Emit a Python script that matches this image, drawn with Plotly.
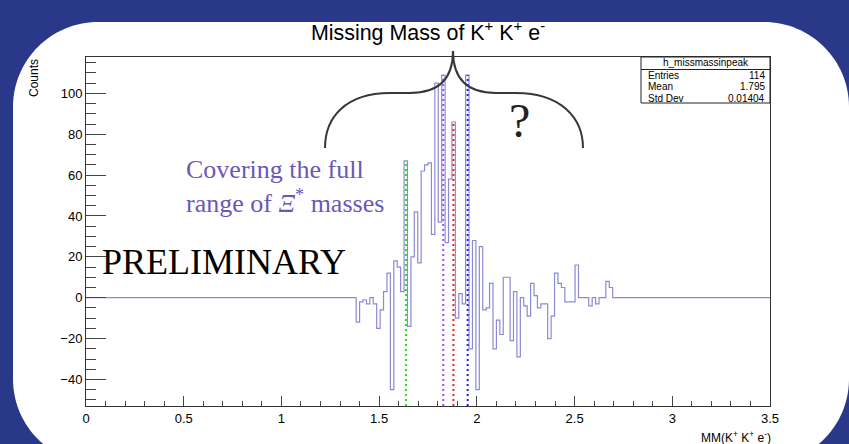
import plotly.graph_objects as go

# ---------------- data ----------------
N_BINS = 200
X_MIN, X_MAX = 0.0, 3.5
FIRST_FILLED_BIN = 79
bin_counts = [-12, -2, -1, -3, 0, -3, -15, -6, 3, 12,
              -45, 18, 15, 3, 67, -14, 20, 42, 17, 62,
              65, 66, 31, 105, 37, 109, 27, 58, 86, -10,
              2, -3, 109, -25, 28, -45, 25, -6, -5, 7,
              -25, -11, -18, 10, 10, -21, 3, -29, 0, -4,
              -9, 7, 1, -5, -3, -3, -20, -9, 12, 7,
              5, -2, -2, -2, 16, 0, 0, 0, -4, 0,
              -3, 0, 0, 8, 5]
mass_lines = [1.637, 1.828, 1.880, 1.953]
mass_line_colors = ['#1fe01f', '#a24ff0', '#ff1a1a', '#1a1aff']
x_tick_vals = [0, 0.5, 1, 1.5, 2, 2.5, 3, 3.5]
x_tick_text = ['0', '0.5', '1', '1.5', '2', '2.5', '3', '3.5']
y_tick_vals = [-40, -20, 0, 20, 40, 60, 80, 100]
y_tick_text = ['\u221240', '\u221220', '0', '20', '40', '60', '80', '100']
stats_title = 'h_missmassinpeak'
stats_labels = ['Entries', 'Mean', 'Std Dev']
stats_values = ['114', '1.795', '0.01404']
Y_MIN, Y_MAX = -53, 117.8

# ---------------- histogram ----------------
bw = (X_MAX - X_MIN) / N_BINS
full = [0] * N_BINS
for i, v in enumerate(bin_counts):
    full[FIRST_FILLED_BIN + i] = v
edges = [X_MIN + i * bw for i in range(N_BINS + 1)]
ys = full + [full[-1]]

W, H = 849, 444
L, T, PW, PH = 86, 57, 684, 349
R = W - L - PW
B = H - T - PH


def fx(p):
    return (p - L) / PW


def fy(p):
    return (T + PH - p) / PH


SANS = 'Liberation Sans, Arial, sans-serif'
SERIF = 'Liberation Serif, Times New Roman, serif'

fig = go.Figure()
fig.add_trace(go.Scatter(x=edges, y=ys, mode='lines', line_shape='hv',
                         line=dict(color='#8b8bd2', width=1.2),
                         hoverinfo='skip', showlegend=False))
for m, c in zip(mass_lines, mass_line_colors):
    k = int((m - X_MIN) / bw)
    fig.add_trace(go.Scatter(x=[m, m], y=[Y_MIN, full[k]], mode='lines',
                             line=dict(color=c, width=2, dash='2px,3px'),
                             hoverinfo='skip', showlegend=False))

# ---------------- decorations ----------------
def path_from(cmds):
    out = []
    for c in cmds:
        if isinstance(c, str):
            out.append(c)
        else:
            out.append('%.5f,%.5f' % (fx(c[0]), fy(c[1])))
    return ' '.join(out)


# white rounded panel
pl, pr, pt, pb, rr = 13, 849, 22, 464, 85
kk = rr * 0.5523
panel = path_from([
    'M', (pl + rr, pt), 'L', (pr - rr, pt),
    'C', (pr - rr + kk, pt), (pr, pt + rr - kk), (pr, pt + rr),
    'L', (pr, pb - rr),
    'C', (pr, pb - rr + kk), (pr - rr + kk, pb), (pr - rr, pb),
    'L', (pl + rr, pb),
    'C', (pl + rr - kk, pb), (pl, pb - rr + kk), (pl, pb - rr),
    'L', (pl, pt + rr),
    'C', (pl, pt + rr - kk), (pl + rr - kk, pt), (pl + rr, pt), 'Z'])

brace = path_from([
    'M', (325, 148), 'C', (325, 118), (345, 93), (390, 93),
    'L', (410, 93), 'C', (440, 93), (453, 78), (453, 51),
    'C', (453, 78), (466, 93), (496, 93),
    'L', (516, 93), 'C', (561, 93), (583, 118), (583, 148)])

shapes = [
    dict(type='path', xref='paper', yref='paper', path=panel,
         fillcolor='white', line=dict(width=0), layer='below'),
    dict(type='path', xref='paper', yref='paper', path=brace,
         line=dict(color='#383838', width=2)),
    # stats box
    dict(type='rect', xref='paper', yref='paper', x0=fx(641), x1=fx(770),
         y0=fy(103), y1=fy(57), line=dict(color='#222', width=1),
         fillcolor='white'),
    dict(type='line', xref='paper', yref='paper', x0=fx(641), x1=fx(770),
         y0=fy(69.5), y1=fy(69.5), line=dict(color='#222', width=1)),
]

ann = []
ann.append(dict(text='Missing Mass of K<sup>+</sup> K<sup>+</sup> e<sup>-</sup>',
                x=fx(428), y=fy(31), xref='paper', yref='paper',
                xanchor='center', yanchor='middle', showarrow=False,
                font=dict(family=SANS, size=21.4, color='black')))
ann.append(dict(text='Counts', x=fx(34), y=fy(57), xref='paper', yref='paper',
                xanchor='center', yanchor='top', textangle=-90, showarrow=False,
                font=dict(family=SANS, size=12, color='black')))
ann.append(dict(text='MM(K<sup>+</sup> K<sup>+</sup> e<sup>-</sup>)',
                x=fx(773), y=fy(437), xref='paper', yref='paper',
                xanchor='right', yanchor='middle', showarrow=False,
                font=dict(family=SANS, size=12, color='black')))
ann.append(dict(text='Covering the full<br>range of <i>\u039e</i><sup>*</sup> masses',
                x=fx(184), y=fy(186), xref='paper', yref='paper',
                xanchor='left', yanchor='middle', align='left', showarrow=False,
                font=dict(family=SERIF, size=26, color='#6a58b8')))
ann.append(dict(text='PRELIMINARY', x=fx(100), y=fy(262), xref='paper',
                yref='paper', xanchor='left', yanchor='middle', showarrow=False,
                font=dict(family=SERIF, size=36, color='black')))
ann.append(dict(text='?', x=fx(519), y=fy(120), xref='paper', yref='paper',
                xanchor='center', yanchor='middle', showarrow=False,
                font=dict(family=SERIF, size=48, color='#222')))
ann.append(dict(text=stats_title, x=fx(705.5), y=fy(63), xref='paper',
                yref='paper', xanchor='center', yanchor='middle', showarrow=False,
                font=dict(family=SANS, size=10, color='black')))
row_y = [75, 86.5, 98]
for lab, val, yy in zip(stats_labels, stats_values, row_y):
    ann.append(dict(text=lab, x=fx(646), y=fy(yy), xref='paper', yref='paper',
                    xanchor='left', yanchor='middle', showarrow=False,
                    font=dict(family=SANS, size=10, color='black')))
    ann.append(dict(text=val, x=fx(767), y=fy(yy), xref='paper', yref='paper',
                    xanchor='right', yanchor='middle', showarrow=False,
                    font=dict(family=SANS, size=10, color='black')))

fig.update_layout(
    width=W, height=H, margin=dict(l=L, r=R, t=T, b=B),
    paper_bgcolor='#2a3889', plot_bgcolor='white',
    shapes=shapes, annotations=ann, showlegend=False,
    xaxis=dict(range=[X_MIN, X_MAX], tickmode='array', tickvals=x_tick_vals,
               ticktext=x_tick_text, ticks='inside', ticklen=10, tickwidth=1,
               tickcolor='#444', showline=True, linecolor='#333', linewidth=1,
               mirror=True, showgrid=False, zeroline=False,
               tickfont=dict(family=SANS, size=13, color='black'),
               minor=dict(dtick=0.1, tick0=0, ticks='inside', ticklen=5,
                          tickcolor='#444', showgrid=False)),
    yaxis=dict(range=[Y_MIN, Y_MAX], tickmode='array', tickvals=y_tick_vals,
               ticktext=y_tick_text, ticks='inside', ticklen=20, tickwidth=1,
               tickcolor='#444', showline=True, linecolor='#333', linewidth=1,
               mirror=True, showgrid=False, zeroline=False,
               tickfont=dict(family=SANS, size=13, color='black'),
               minor=dict(dtick=5, tick0=0, ticks='inside', ticklen=10,
                          tickcolor='#444', showgrid=False)),
)

fig.write_html('out.html')
